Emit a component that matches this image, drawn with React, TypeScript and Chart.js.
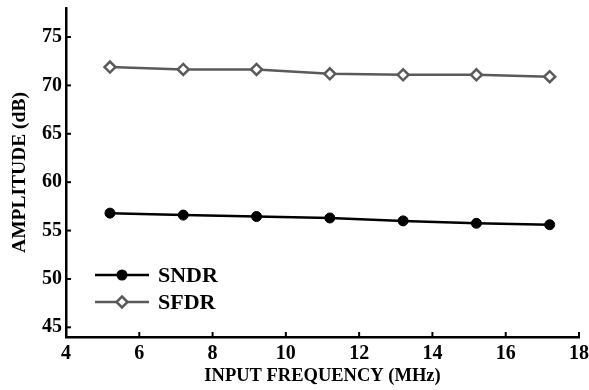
import React, { useEffect, useRef } from "react";
import { Chart, registerables } from "chart.js";

Chart.register(...registerables);

const frequencies = [5.2, 7.2, 9.2, 11.2, 13.2, 15.2, 17.2];
const sndr = [56.8, 56.6, 56.45, 56.3, 56.0, 55.75, 55.6];
const sfdr = [71.9, 71.65, 71.65, 71.2, 71.1, 71.1, 70.9];
const xTicks = [4, 6, 8, 10, 12, 14, 16, 18];
const yTicks = [45, 50, 55, 60, 65, 70, 75];
const seriesNames = ["SNDR", "SFDR"];

const FONT = "'Liberation Serif', 'Times New Roman', serif";
const SNDR_COLOR = "#000000";
const SFDR_COLOR = "#5a5a5a";

const inwardTicks = {
  id: "inwardTicks",
  afterDraw(chart: any) {
    const { ctx, chartArea, scales } = chart;
    const x = scales.x;
    const y = scales.y;
    ctx.save();
    ctx.strokeStyle = "#000";
    ctx.lineWidth = 2;
    xTicks.forEach((v) => {
      const px = x.getPixelForValue(v);
      ctx.beginPath();
      ctx.moveTo(px, chartArea.bottom);
      ctx.lineTo(px, chartArea.bottom - 5);
      ctx.stroke();
    });
    yTicks.forEach((v) => {
      const py = y.getPixelForValue(v);
      ctx.beginPath();
      ctx.moveTo(chartArea.left, py);
      ctx.lineTo(chartArea.left + 5, py);
      ctx.stroke();
    });
    ctx.restore();
  },
};

const customLegend = {
  id: "customLegend",
  afterDraw(chart: any) {
    const { ctx, chartArea } = chart;
    const x0 = chartArea.left + 29;
    const x1 = chartArea.left + 83;
    const xm = (x0 + x1) / 2;
    const xt = chartArea.left + 92;
    const rows = [chartArea.bottom - 62, chartArea.bottom - 35];
    ctx.save();
    chart.data.datasets.forEach((ds: any, i: number) => {
      const yy = rows[i];
      ctx.strokeStyle = ds.borderColor;
      ctx.lineWidth = ds.borderWidth;
      ctx.beginPath();
      ctx.moveTo(x0, yy);
      ctx.lineTo(x1, yy);
      ctx.stroke();
      if (ds.pointStyle === "circle") {
        ctx.fillStyle = ds.pointBackgroundColor;
        ctx.beginPath();
        ctx.arc(xm, yy, ds.pointRadius + 0.5, 0, Math.PI * 2);
        ctx.fill();
      } else {
        const r = ds.pointRadius;
        ctx.fillStyle = ds.pointBackgroundColor;
        ctx.strokeStyle = ds.pointBorderColor;
        ctx.lineWidth = ds.pointBorderWidth;
        ctx.beginPath();
        ctx.moveTo(xm, yy - r);
        ctx.lineTo(xm + r, yy);
        ctx.lineTo(xm, yy + r);
        ctx.lineTo(xm - r, yy);
        ctx.closePath();
        ctx.fill();
        ctx.stroke();
      }
      ctx.fillStyle = "#000";
      ctx.font = `bold 22px ${FONT}`;
      ctx.textBaseline = "middle";
      ctx.textAlign = "left";
      ctx.fillText(ds.label, xt, yy + 1);
    });
    ctx.restore();
  },
};

export default function App() {
  const canvasRef = useRef<HTMLCanvasElement | null>(null);

  useEffect(() => {
    if (!canvasRef.current) return;
    const chart = new Chart(canvasRef.current, {
      type: "line",
      data: {
        datasets: [
          {
            label: seriesNames[0],
            data: frequencies.map((f, i) => ({ x: f, y: sndr[i] })),
            borderColor: SNDR_COLOR,
            backgroundColor: SNDR_COLOR,
            borderWidth: 2.5,
            pointStyle: "circle",
            pointRadius: 5,
            pointBackgroundColor: SNDR_COLOR,
            pointBorderColor: SNDR_COLOR,
            pointBorderWidth: 1,
            tension: 0,
          },
          {
            label: seriesNames[1],
            data: frequencies.map((f, i) => ({ x: f, y: sfdr[i] })),
            borderColor: SFDR_COLOR,
            backgroundColor: "#ffffff",
            borderWidth: 2.5,
            pointStyle: "rectRot",
            pointRadius: 5.5,
            pointBackgroundColor: "#ffffff",
            pointBorderColor: SFDR_COLOR,
            pointBorderWidth: 2.5,
            tension: 0,
          },
        ],
      },
      options: {
        responsive: false,
        animation: false,
        layout: { padding: { top: 8, right: 10, left: 0, bottom: 0 } },
        plugins: {
          legend: { display: false },
          tooltip: { enabled: false },
        },
        scales: {
          x: {
            type: "linear",
            min: 4,
            max: 18,
            afterBuildTicks: (axis: any) => {
              axis.ticks = xTicks.map((v) => ({ value: v }));
            },
            afterFit: (axis: any) => {
              axis.height = 53;
              axis.paddingLeft = 0;
              axis.paddingRight = 0;
            },
            grid: { display: true, drawOnChartArea: false, drawTicks: false },
            border: { display: true, color: "#000", width: 2.5 },
            ticks: {
              color: "#000",
              padding: 5,
              maxRotation: 0,
              font: { family: FONT, size: 20, weight: "bold" },
            },
            title: {
              display: true,
              text: "INPUT FREQUENCY (MHz)",
              color: "#000",
              font: { family: FONT, size: 18.5, weight: "bold" },
              padding: { top: 0, bottom: 3 },
            },
          },
          y: {
            type: "linear",
            min: 44,
            max: 78,
            afterBuildTicks: (axis: any) => {
              axis.ticks = yTicks.map((v) => ({ value: v }));
            },
            afterFit: (axis: any) => {
              axis.width = 66;
              axis.paddingTop = 0;
              axis.paddingBottom = 0;
            },
            grid: { display: true, drawOnChartArea: false, drawTicks: false },
            border: { display: true, color: "#000", width: 2.5 },
            ticks: {
              color: "#000",
              padding: 4,
              font: { family: FONT, size: 20, weight: "bold" },
            },
            title: {
              display: true,
              text: "AMPLITUDE (dB)",
              color: "#000",
              font: { family: FONT, size: 19.5, weight: "bold" },
              padding: { top: 8, bottom: 0 },
            },
          },
        },
      },
      plugins: [inwardTicks, customLegend],
    });
    return () => chart.destroy();
  }, []);

  return (
    <div style={{ position: "absolute", left: 0, top: 0, width: 589, height: 390, background: "#fff" }}>
      <canvas ref={canvasRef} width={589} height={390} />
    </div>
  );
}
